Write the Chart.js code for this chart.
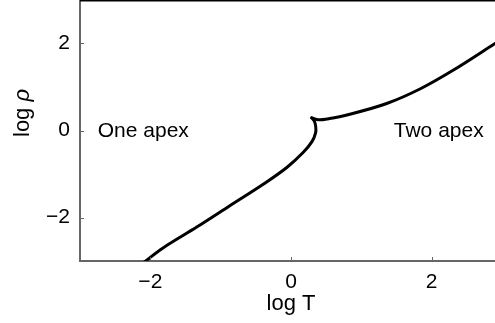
<!DOCTYPE html>
<html>
<head>
<meta charset="utf-8">
<script src="https://cdn.jsdelivr.net/npm/chart.js@4/dist/chart.umd.min.js"></script>
<style>
  html, body { margin: 0; padding: 0; background: #fff; }
  #wrap { width: 495px; height: 323px; position: relative; }
</style>
</head>
<body>
<div id="wrap"><canvas id="myChart"></canvas></div>
<script>
// lower branch (one apex side), runs up to the cusp
var lowerT   = [-2.10, -1.82, -1.34, -0.87, -0.39, -0.06, 0.175, 0.30, 0.35, 0.35, 0.33, 0.295];
var lowerRho = [-3.04, -2.70, -2.22, -1.73, -1.23, -0.85, -0.50, -0.25, -0.05, 0.10, 0.22, 0.29];
// upper branch (two apex side), starts at the cusp
var upperT   = [0.295, 0.39, 0.55, 0.85, 1.36, 1.84, 2.31, 2.9];
var upperRho = [0.29, 0.245, 0.275, 0.38, 0.62, 0.96, 1.39, 2.0];

var xTicks = [-2, 0, 2];
var yTicks = [-2, 0, 2];

var regionLabels = ['One apex', 'Two apex'];
var regionT = [-2.1, 2.1];
var regionRho = [0, 0];

function toPoints(xs, ys) {
    var pts = [];
    for (var i = 0; i < xs.length; i++) {
        pts.push({x: xs[i], y: ys[i]});
    }
    return pts;
}

function fmt(v) {
    return v < 0 ? '\u2212' + Math.abs(v) : '' + v;
}

var fontFam = '"Liberation Sans", Arial, sans-serif';

var extras = {
    id: 'extras',
    afterDraw: function(chart) {
        var ctx = chart.ctx;
        var area = chart.chartArea;
        var xs = chart.scales.x;
        var ys = chart.scales.y;
        ctx.save();

        // top frame line
        ctx.strokeStyle = '#000';
        ctx.lineWidth = 1.5;
        ctx.beginPath();
        ctx.moveTo(area.left, 0.75);
        ctx.lineTo(area.right, 0.75);
        ctx.stroke();

        // inward tick marks
        ctx.strokeStyle = '#666';
        ctx.lineWidth = 1;
        xTicks.forEach(function(t) {
            var px = Math.round(xs.getPixelForValue(t)) + 0.5;
            ctx.beginPath();
            ctx.moveTo(px, area.bottom);
            ctx.lineTo(px, area.bottom - 4);
            ctx.stroke();
        });
        yTicks.forEach(function(t) {
            var py = Math.round(ys.getPixelForValue(t)) + 0.5;
            ctx.beginPath();
            ctx.moveTo(area.left, py);
            ctx.lineTo(area.left + 4, py);
            ctx.stroke();
        });

        // region labels
        ctx.fillStyle = '#000';
        ctx.font = '21px ' + fontFam;
        ctx.textAlign = 'center';
        ctx.textBaseline = 'middle';
        for (var i = 0; i < regionLabels.length; i++) {
            ctx.fillText(regionLabels[i], xs.getPixelForValue(regionT[i]), ys.getPixelForValue(regionRho[i]) + 1);
        }

        // x title
        ctx.font = '22px ' + fontFam;
        ctx.fillText('log T', 291, 304);

        // y title, log + italic rho
        ctx.translate(23, 137);
        ctx.rotate(-Math.PI / 2);
        ctx.textAlign = 'left';
        ctx.font = '22px ' + fontFam;
        var part = 'log ';
        ctx.fillText(part, 0, 0);
        var w = ctx.measureText(part).width;
        ctx.font = 'italic 22px ' + fontFam;
        ctx.fillText('\u03c1', w, 0);
        ctx.restore();
    }
};

var ctx = document.getElementById('myChart').getContext('2d');
var myChart = new Chart(ctx, {
    type: 'scatter',
    data: {
        datasets: [{
            data: toPoints(lowerT, lowerRho),
            showLine: true,
            borderColor: '#000',
            borderWidth: 3,
            pointRadius: 0,
            tension: 0.35,
            borderCapStyle: 'round'
        }, {
            data: toPoints(upperT, upperRho),
            showLine: true,
            borderColor: '#000',
            borderWidth: 3,
            pointRadius: 0,
            cubicInterpolationMode: 'monotone',
            borderCapStyle: 'round'
        }]
    },
    options: {
        responsive: true,
        maintainAspectRatio: false,
        animation: false,
        layout: { padding: 0 },
        plugins: {
            legend: { display: false },
            tooltip: { enabled: false }
        },
        scales: {
            x: {
                type: 'linear',
                min: -3,
                max: 2.9,
                afterBuildTicks: function(s) { s.ticks = xTicks.map(function(v) { return {value: v}; }); },
                afterFit: function(s) { s.height = 62; s.paddingLeft = 0; s.paddingRight = 0; },
                grid: { display: false, drawTicks: false },
                border: { color: '#666', width: 2 },
                ticks: {
                    padding: 9,
                    color: '#000',
                    font: { family: fontFam, size: 21 },
                    callback: function(v) { return fmt(v); }
                }
            },
            y: {
                type: 'linear',
                min: -3,
                max: 3,
                afterBuildTicks: function(s) { s.ticks = yTicks.map(function(v) { return {value: v}; }); },
                afterFit: function(s) { s.width = 80; s.paddingTop = 0; s.paddingBottom = 0; },
                grid: { display: false, drawTicks: false },
                border: { color: '#666', width: 2 },
                ticks: {
                    padding: 10,
                    color: '#000',
                    font: { family: fontFam, size: 21 },
                    callback: function(v) { return fmt(v); }
                }
            }
        }
    },
    plugins: [extras]
});
</script>
</body>
</html>
